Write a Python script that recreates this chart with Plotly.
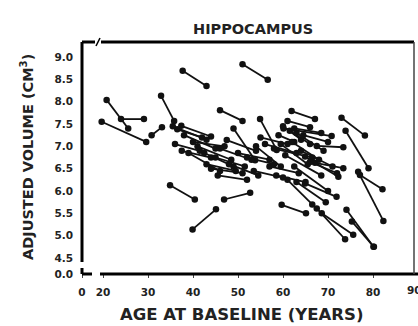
import plotly.graph_objects as go

# Each subject: baseline (age, volume) -> follow-up (age, volume)
age_start = [20.8, 19.7, 24.0, 37.7, 32.9, 30.8, 51.0, 46.0, 61.9, 73.0,
             73.9, 77.1, 76.7, 74.1, 75.3, 59.7, 46.9, 39.9, 34.9, 67.5,
             68.6, 54.9, 61.0, 49.0, 60.1, 67.5, 67.1, 64.9, 64.9, 61.0,
             37.4, 36.5, 38.0, 36.0, 37.5, 40.0, 41.0, 42.5, 43.0, 44.0,
             45.0, 46.0, 45.5, 48.0, 47.5, 39.0, 35.5, 55.0, 56.0, 58.0,
             59.0, 60.0, 61.5, 62.0, 63.0, 57.0, 58.5, 60.5, 62.5, 64.0,
             63.0, 66.0, 52.0, 53.5, 50.0, 54.0, 62.5, 64.5, 59.5]
vol_start = [8.04, 7.55, 7.61, 8.69, 8.13, 7.25, 8.84, 7.81, 7.79, 7.64,
             7.35, 6.36, 6.43, 5.58, 5.32, 5.69, 5.81, 5.14, 6.13, 5.61,
             5.50, 7.61, 7.57, 7.40, 7.40, 7.01, 6.63, 6.77, 6.17, 6.25,
             7.46, 7.38, 7.25, 7.05, 6.90, 7.10, 7.00, 6.85, 6.60, 6.50,
             6.75, 6.95, 6.35, 6.60, 7.14, 6.85, 7.45, 7.20, 7.05, 6.95,
             7.25, 7.45, 7.35, 7.10, 7.30, 6.55, 6.35, 6.80, 6.55, 6.90,
             6.20, 6.65, 6.75, 6.45, 6.85, 7.00, 7.40, 7.25, 7.05]
age_end = [25.6, 29.6, 29.1, 43.0, 35.8, 33.1, 56.6, 51.0, 67.1, 78.2,
           79.0, 82.1, 82.3, 80.1, 80.2, 65.1, 52.7, 45.1, 40.4, 73.8,
           75.6, 58.6, 66.0, 53.8, 70.8, 73.4, 73.4, 72.3, 71.9, 66.5,
           44.0, 42.0, 45.0, 41.5, 44.0, 47.0, 48.5, 49.0, 49.5, 51.0,
           51.5, 53.0, 52.0, 54.5, 54.0, 46.0, 43.0, 61.0, 63.0, 66.5,
           62.5, 64.0, 66.0, 68.0, 69.0, 63.5, 65.0, 68.5, 70.0, 71.0,
           69.5, 72.0, 58.0, 60.0, 57.0, 59.5, 68.5, 70.0, 65.5]
vol_end = [7.40, 7.10, 7.61, 8.35, 7.57, 7.43, 8.49, 7.57, 7.61, 7.24,
           6.51, 6.04, 5.33, 4.75, 4.75, 5.50, 5.96, 5.59, 5.81, 4.92,
           5.02, 6.92, 7.43, 6.69, 7.23, 6.98, 6.51, 6.32, 5.87, 5.70,
           7.22, 7.20, 6.95, 6.90, 6.75, 7.00, 6.70, 6.55, 6.45, 6.40,
           6.55, 6.70, 6.25, 6.35, 6.90, 6.45, 7.15, 7.05, 6.85, 6.75,
           7.10, 7.15, 7.05, 6.70, 6.90, 6.40, 6.20, 6.35, 6.00, 6.55,
           5.75, 6.40, 6.60, 6.30, 6.70, 6.55, 7.30, 7.10, 6.60]

y_tick_vals = [4.142, 4.5, 5.0, 5.5, 6.0, 6.5, 7.0, 7.5, 8.0, 8.5, 9.0]
y_tick_text = ["0.0", "4.5", "5.0", "5.5", "6.0", "6.5", "7.0", "7.5", "8.0", "8.5", "9.0"]
x_tick_vals = [15.33, 20, 30, 40, 50, 60, 70, 80]
x_tick_text = ["0", "20", "30", "40", "50", "60", "70", "80"]

xs, ys = [], []
for a0, v0, a1, v1 in zip(age_start, vol_start, age_end, vol_end):
    xs += [a0, a1, None]
    ys += [v0, v1, None]

fig = go.Figure()
fig.add_trace(go.Scatter(
    x=xs, y=ys, mode="lines+markers",
    line=dict(color="#111111", width=1.8),
    marker=dict(color="#111111", size=6.5),
    connectgaps=False, showlegend=False, hoverinfo="skip",
))

W, H = 418, 326
L, R, T, B = 82, 4, 42, 52
pw, ph = W - L - R, H - T - B

def px(x):
    return (x - L) / pw

def py(y):
    return (H - B - y) / ph

tickfont = dict(family="DejaVu Sans", size=10.5, color="#222222", weight="bold")

fig.update_layout(
    width=W, height=H,
    margin=dict(l=L, r=R, t=T, b=B),
    paper_bgcolor="white", plot_bgcolor="white",
    xaxis=dict(range=[15.33, 89.11], tickvals=x_tick_vals, ticktext=x_tick_text,
               showgrid=False, zeroline=False, showline=False,
               ticks="outside", ticklen=3, tickwidth=1, tickcolor="#444",
               ticklabelstandoff=5, tickfont=tickfont),
    yaxis=dict(range=[4.142, 9.336], tickvals=y_tick_vals, ticktext=y_tick_text,
               showgrid=False, zeroline=False, showline=False,
               ticks="", ticklabelstandoff=8, tickfont=tickfont),
)

lw = 3
shapes = [
    dict(type="line", xref="paper", yref="paper", x0=0, x1=0, y0=py(262), y1=1, line=dict(color="black", width=lw)),
    dict(type="line", xref="paper", yref="paper", x0=0, x1=0, y0=0, y1=py(268), line=dict(color="black", width=lw)),
    dict(type="line", xref="paper", yref="paper", x0=0, x1=px(92), y0=0, y1=0, line=dict(color="black", width=lw)),
    dict(type="line", xref="paper", yref="paper", x0=px(100), x1=px(420), y0=0, y1=0, line=dict(color="black", width=lw)),
    dict(type="line", xref="paper", yref="paper", x0=0, x1=px(95), y0=1, y1=1, line=dict(color="black", width=lw)),
    dict(type="line", xref="paper", yref="paper", x0=px(96), x1=px(100), y0=py(46), y1=py(38), line=dict(color="black", width=1.5)),
    dict(type="line", xref="paper", yref="paper", x0=px(101), x1=1, y0=1, y1=1, line=dict(color="black", width=lw)),
    dict(type="line", xref="paper", yref="paper", x0=1, x1=1, y0=0, y1=1, line=dict(color="#444444", width=1.5)),
]
fig.update_layout(shapes=shapes)

annotations = [
    dict(text="HIPPOCAMPUS", xref="paper", yref="paper", x=px(253), y=py(29),
         showarrow=False, xanchor="center", yanchor="middle",
         font=dict(family="DejaVu Sans", size=14.5, color="#222222", weight="bold")),
    dict(text="AGE AT BASELINE (YEARS)", xref="paper", yref="paper", x=px(241), y=py(314),
         showarrow=False, xanchor="center", yanchor="middle",
         font=dict(family="DejaVu Sans", size=16.5, color="#222222", weight="bold")),
    dict(text="ADJUSTED VOLUME (CM<sup>3</sup>)", xref="paper", yref="paper", x=px(27), y=py(157),
         showarrow=False, xanchor="center", yanchor="middle", textangle=-90,
         font=dict(family="DejaVu Sans", size=14.5, color="#222222", weight="bold")),
    dict(text="90", xref="paper", yref="paper", x=px(414), y=py(290),
         showarrow=False, xanchor="center", yanchor="middle", font=tickfont),
]
fig.update_layout(annotations=annotations)

fig.write_html("out.html")
